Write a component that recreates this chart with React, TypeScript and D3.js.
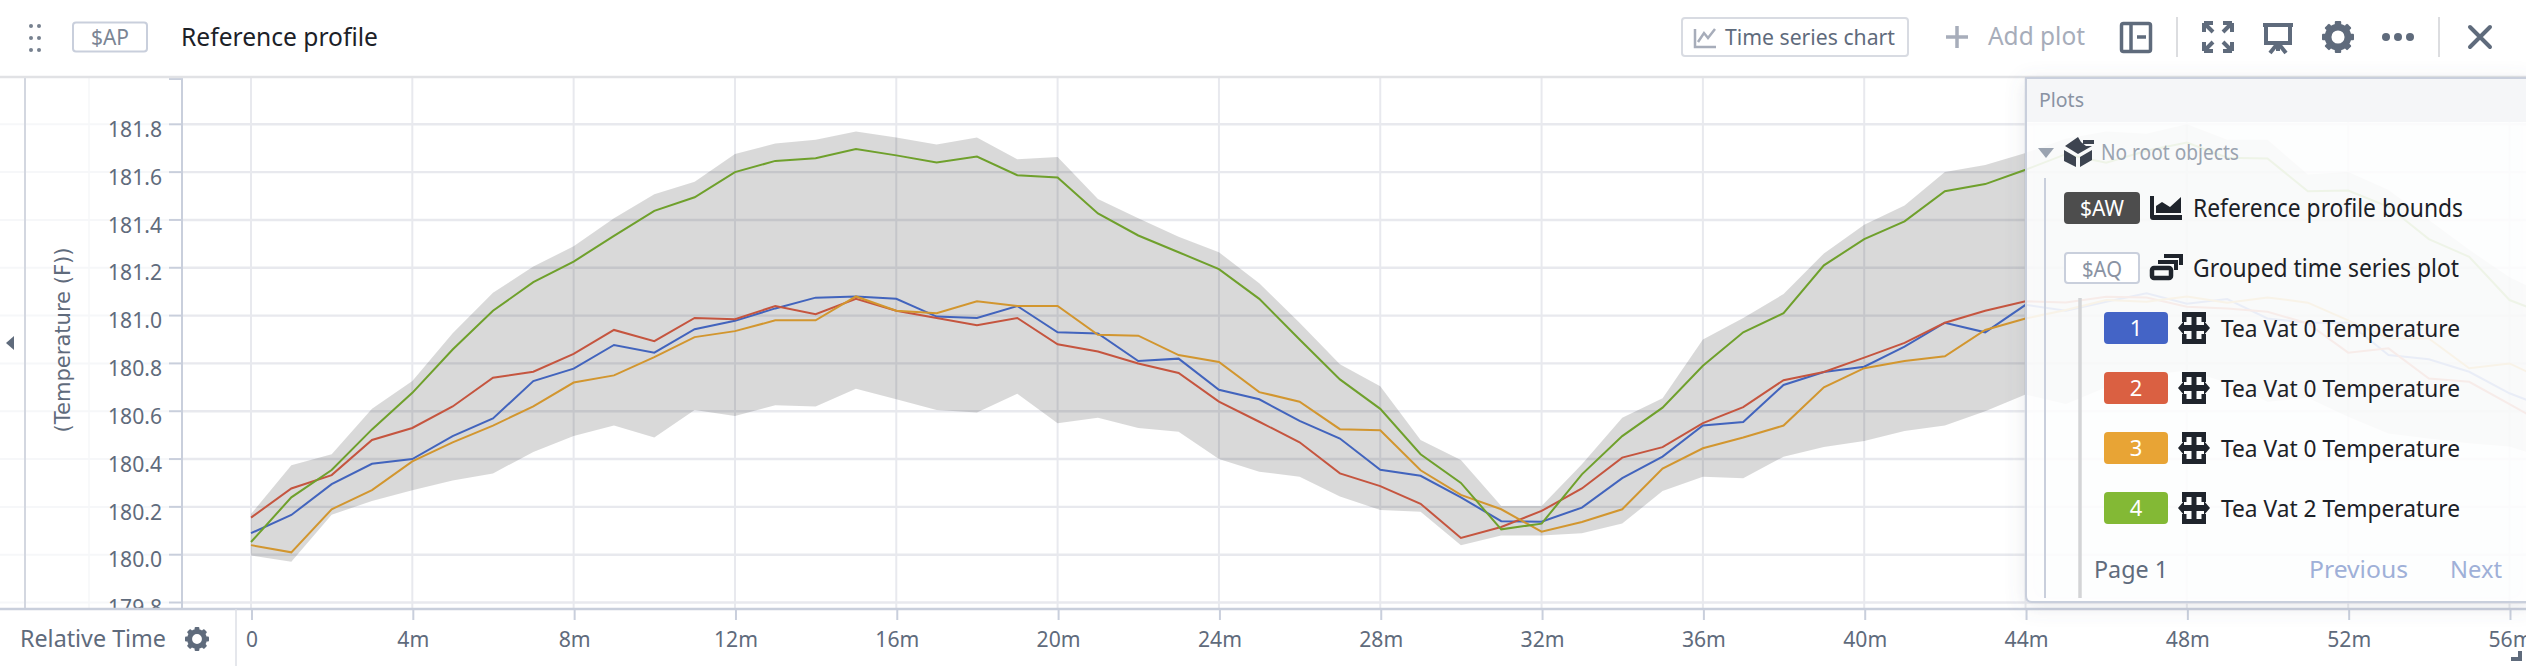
import React from "react";
import * as d3 from "d3";

const W = 2526;
const H = 666;

const yTicks = [179.8, 180.0, 180.2, 180.4, 180.6, 180.8, 181.0, 181.2, 181.4, 181.6, 181.8];
const xTicks = [0, 4, 8, 12, 16, 20, 24, 28, 32, 36, 40, 44, 48, 52, 56];

const boundsUpper = [180.17, 180.374, 180.42, 180.61, 180.726, 180.926, 181.096, 181.205, 181.29, 181.407, 181.507, 181.56, 181.676, 181.72, 181.735, 181.77, 181.745, 181.716, 181.745, 181.654, 181.663, 181.488, 181.407, 181.33, 181.265, 181.135, 180.97, 180.796, 180.705, 180.48, 180.396, 180.204, 180.204, 180.378, 180.573, 180.654, 180.9, 180.99, 181.09, 181.26, 181.38, 181.46, 181.6, 181.63, 181.68, 181.74, 181.77, 181.76, 181.8, 181.735, 181.735, 181.59, 181.6, 181.525, 181.4, 181.275, 181.16, 181.08];
const boundsLower = [179.997, 179.97, 180.167, 180.225, 180.27, 180.31, 180.34, 180.43, 180.496, 180.54, 180.49, 180.605, 180.58, 180.625, 180.62, 180.694, 180.65, 180.605, 180.595, 180.673, 180.55, 180.573, 180.53, 180.514, 180.4, 180.347, 180.326, 180.243, 180.187, 180.18, 180.04, 180.08, 180.08, 180.09, 180.13, 180.266, 180.326, 180.32, 180.41, 180.45, 180.475, 180.517, 180.54, 180.6, 180.67, 180.63, 180.7, 180.75, 180.77, 180.72, 180.64, 180.656, 180.577, 180.507, 180.486, 180.466, 180.452, 180.4];

const series1 = [180.09, 180.166, 180.295, 180.38, 180.4, 180.496, 180.57, 180.726, 180.778, 180.877, 180.845, 180.943, 180.978, 181.03, 181.075, 181.08, 181.07, 180.996, 180.99, 181.04, 180.93, 180.925, 180.81, 180.82, 180.69, 180.65, 180.56, 180.486, 180.355, 180.33, 180.24, 180.14, 180.138, 180.197, 180.32, 180.41, 180.54, 180.555, 180.71, 180.764, 180.786, 180.87, 180.97, 180.93, 181.045, 181.02, 181.058, 181.093, 181.05, 181.069, 180.988, 180.97, 180.97, 180.835, 180.817, 180.765, 180.675, 180.61];
const series2 = [180.155, 180.277, 180.333, 180.48, 180.53, 180.62, 180.74, 180.765, 180.84, 180.94, 180.893, 180.99, 180.985, 181.04, 181.006, 181.07, 181.02, 180.99, 180.96, 180.99, 180.88, 180.85, 180.8, 180.76, 180.64, 180.556, 180.47, 180.34, 180.287, 180.213, 180.07, 180.116, 180.183, 180.277, 180.406, 180.45, 180.55, 180.617, 180.73, 180.764, 180.824, 180.886, 180.97, 181.02, 181.06, 181.055, 181.079, 181.076, 181.037, 181.03, 181.016, 180.967, 180.845, 180.863, 180.737, 180.723, 180.63, 180.535];
const series3 = [180.04, 180.01, 180.19, 180.27, 180.39, 180.47, 180.54, 180.62, 180.72, 180.75, 180.826, 180.91, 180.935, 180.98, 180.98, 181.08, 181.02, 181.01, 181.06, 181.04, 181.04, 180.92, 180.916, 180.835, 180.806, 180.68, 180.64, 180.525, 180.52, 180.353, 180.25, 180.19, 180.096, 180.137, 180.19, 180.36, 180.445, 180.49, 180.54, 180.7, 180.78, 180.81, 180.83, 180.94, 180.988, 181.023, 181.065, 181.058, 181.08, 181.054, 181.076, 181.054, 180.98, 180.904, 180.904, 180.78, 180.8, 180.72];
const series4 = [180.053, 180.24, 180.354, 180.524, 180.677, 180.858, 181.02, 181.14, 181.226, 181.333, 181.438, 181.495, 181.6, 181.647, 181.658, 181.697, 181.67, 181.64, 181.665, 181.587, 181.578, 181.427, 181.335, 181.265, 181.194, 181.07, 180.9, 180.733, 180.61, 180.42, 180.3, 180.106, 180.13, 180.336, 180.496, 180.615, 180.79, 180.93, 181.01, 181.21, 181.32, 181.394, 181.52, 181.55, 181.61, 181.675, 181.639, 181.689, 181.724, 181.66, 181.657, 181.52, 181.523, 181.455, 181.32, 181.246, 181.065, 181.0];

const lineColors = ["#4264bd", "#c5553f", "#d2962f", "#6fa02c"];
const badgeColors = ["#4464c6", "#da6042", "#e8a435", "#83b935"];
const legendNames = ["Tea Vat 0 Temperature", "Tea Vat 0 Temperature", "Tea Vat 0 Temperature", "Tea Vat 2 Temperature"];
const allSeries = [series1, series2, series3, series4];

const FONT = "'Noto Sans', sans-serif";
const GREY = "#5f6b7c";
const LIGHT = "#a7adba";
const DARK = "#1c2127";
const RULE = "#c9cfdc";

const x = d3.scaleLinear().domain([0, 56]).range([251, 2509.5]);
const y = d3.scaleLinear().domain([180, 181.8]).range([554.7, 124.3]);

const linePath = d3.line<number>().x((_, i) => x(i)).y((d) => y(d));
const bandPath = d3
  .area<number>()
  .x((_, i) => x(i))
  .y0((_, i) => y(boundsLower[i]))
  .y1((d) => y(d));

function T(p: { x: number; y: number; s: number; len?: number; c?: string; a?: string; f?: string; w?: number; t?: string; children?: any }) {
  return (
    <text
      x={p.x}
      y={p.y}
      fontSize={p.s}
      fill={p.c ?? GREY}
      textAnchor={p.a ?? "start"}
      fontFamily={p.f ?? FONT}
      fontWeight={p.w ?? 400}
      textLength={p.len}
      lengthAdjust={p.len ? "spacingAndGlyphs" : undefined}
      transform={p.t}
    >
      {p.children}
    </text>
  );
}

function Gear({ cx, cy, r, c }: { cx: number; cy: number; r: number; c: string }) {
  return (
    <g>
      <circle cx={cx} cy={cy} r={r * 0.62} fill="none" stroke={c} strokeWidth={r * 0.42} />
      {d3.range(8).map((i) => (
        <rect
          key={i}
          x={cx - r * 0.2}
          y={cy - r}
          width={r * 0.4}
          height={r * 0.4}
          rx={1}
          fill={c}
          transform={`rotate(${i * 45} ${cx} ${cy})`}
        />
      ))}
    </g>
  );
}

function MoveIcon({ px, py }: { px: number; py: number }) {
  const c = "#1f242c";
  return (
    <g transform={`translate(${px},${py})`}>
      <path d="M4 0H28V10H23.5V5H8.5V10H4Z M4 32V22H8.5V27H23.5V22H28V32Z" fill={c} />
      <rect x="13.5" y="1" width="5" height="30" fill={c} />
      <path d="M0 16L6 9V13H26V9L32 16L26 23V19H6V23Z" fill={c} />
    </g>
  );
}

export default function App() {
  return (
    <svg
      width={W}
      height={H}
      viewBox={`0 0 ${W} ${H}`}
      style={{ position: "absolute", left: 0, top: 0, display: "block", background: "#fff" }}
    >
      <defs>
        <clipPath id="plot">
          <rect x={182} y={78} width={W - 182} height={531} />
        </clipPath>
        <clipPath id="axisLabels">
          <rect x={0} y={78} width={182} height={531} />
        </clipPath>
        <filter id="panelShadow" x="-10%" y="-10%" width="120%" height="125%">
          <feDropShadow dx="0" dy="4" stdDeviation="10" floodColor="#5f6b7c" floodOpacity="0.16" />
        </filter>
      </defs>

      {/* left gutter */}
      {yTicks.map((t) => (
        <line key={t} x1={0} x2={169} y1={y(t)} y2={y(t)} stroke="#f6f7f9" strokeWidth={2} />
      ))}
      <line x1={89} x2={89} y1={78} y2={609} stroke="#f6f7f9" strokeWidth={1.5} />
      <line x1={25} x2={25} y1={78} y2={609} stroke="#d3d7e0" strokeWidth={2} />
      <path d="M6 343L14 336V350Z" fill={GREY} />

      {/* grid */}
      <g clipPath="url(#plot)">
        {yTicks.map((t) => (
          <line key={t} x1={182} x2={W} y1={y(t)} y2={y(t)} stroke="#e8e9ee" strokeWidth={2.4} />
        ))}
        {xTicks.map((t) => (
          <line key={t} x1={x(t)} x2={x(t)} y1={78} y2={609} stroke="#e8e9ee" strokeWidth={2} />
        ))}
        <path d={bandPath(boundsUpper) ?? ""} fill="#000" fillOpacity={0.15} />
        {allSeries.map((s, i) => (
          <path key={i} d={linePath(s) ?? ""} fill="none" stroke={lineColors[i]} strokeWidth={2} />
        ))}
      </g>

      {/* y axis */}
      <line x1={182} x2={182} y1={78} y2={609} stroke={RULE} strokeWidth={2} />
      <line x1={169} x2={182} y1={79} y2={79} stroke={RULE} strokeWidth={2} />
      <g clipPath="url(#axisLabels)">
        {yTicks.map((t) => (
          <g key={t}>
            <line x1={169} x2={182} y1={y(t)} y2={y(t)} stroke={RULE} strokeWidth={2} />
            <T x={162} y={y(t) + 12.7} s={21.5} a="end" len={54}>
              {t.toFixed(1)}
            </T>
          </g>
        ))}
      </g>
      <T x={0} y={0} s={21} a="middle" f="'DejaVu Sans', sans-serif" len={185} t="translate(70,340) rotate(-90)">
        (Temperature (F))
      </T>

      {/* x axis */}
      <line x1={0} x2={W} y1={609} y2={609} stroke={RULE} strokeWidth={2.4} />
      <line x1={236} x2={236} y1={609} y2={H} stroke="#dcdfe6" strokeWidth={1.5} />
      <T x={20} y={647} s={23} len={146}>Relative Time</T>
      <Gear cx={197} cy={639} r={12} c={GREY} />
      {xTicks.map((t) => (
        <g key={t}>
          <line x1={x(t) + 1} x2={x(t) + 1} y1={609} y2={620} stroke={RULE} strokeWidth={2} />
          <T x={x(t) + 1} y={647} s={22} a="middle" len={t === 0 ? 12 : t < 12 ? 32 : 44}>
            {t === 0 ? "0" : `${t}m`}
          </T>
        </g>
      ))}
      <path d="M2522 651V661H2511V657H2518V651Z" fill="#5f6b7c" />

      {/* header */}
      <rect x={0} y={0} width={W} height={76} fill="#fff" />
      <line x1={0} x2={W} y1={77} y2={77} stroke="#e1e2e5" strokeWidth={2.6} />
      {[26, 38, 50].map((cy) =>
        [31, 39].map((cx) => <circle key={`${cx}-${cy}`} cx={cx} cy={cy} r={2} fill="#77818f" />)
      )}
      <rect x={73} y={22.5} width={74} height={29} rx={3} fill="#fff" stroke={RULE} strokeWidth={2} />
      <T x={110} y={45} s={21} a="middle" c="#7b8594" len={38}>$AP</T>
      <T x={181} y={46} s={25} c={DARK} len={197}>Reference profile</T>

      <rect x={1682} y={18} width={226} height={38} rx={3} fill="#fff" stroke="#d8dbe2" strokeWidth={2} />
      <path d="M1695 29V47H1716" fill="none" stroke={LIGHT} strokeWidth={2.5} />
      <path d="M1698 42L1704 33L1708 38L1715 29" fill="none" stroke={LIGHT} strokeWidth={2.5} />
      <T x={1725} y={45} s={22} len={170}>Time series chart</T>
      <path d="M1957 26V48M1946 37H1968" stroke={LIGHT} strokeWidth={3.5} />
      <T x={1988} y={45} s={25} c={LIGHT} len={97}>Add plot</T>
      <rect x={2121.5} y={23.5} width={29} height={28} rx={2} fill="none" stroke={GREY} strokeWidth={3.5} />
      <path d="M2131 24V51" stroke={GREY} strokeWidth={3.5} />
      <path d="M2137 37H2146" stroke={GREY} strokeWidth={3.5} />
      <line x1={2177} x2={2177} y1={17} y2={57} stroke="#dcdde0" strokeWidth={2} />
      <line x1={2439} x2={2439} y1={17} y2={57} stroke="#dcdde0" strokeWidth={2} />
      <g fill="none" stroke={GREY} strokeWidth={4} strokeLinejoin="round">
        <path d="M2204 23H2213M2204 23V32M2204 23L2213 32" />
        <path d="M2232 23H2223M2232 23V32M2232 23L2223 32" />
        <path d="M2204 51H2213M2204 51V42M2204 51L2213 42" />
        <path d="M2232 51H2223M2232 51V42M2232 51L2223 42" />
      </g>
      <path d="M2263 25H2293M2266 25V43H2290V25M2278 43L2270 53M2278 43V51M2278 43L2286 53" fill="none" stroke={GREY} strokeWidth={4} />
      <Gear cx={2338} cy={37} r={16} c={GREY} />
      {[2386, 2398, 2410].map((cx) => <circle key={cx} cx={cx} cy={37} r={4} fill={GREY} />)}
      <path d="M2470 27L2490 47M2490 27L2470 47" stroke={GREY} strokeWidth={4} strokeLinecap="round" />

      {/* panel */}
      <path
        d={`M${W + 4} 78H2026V596Q2026 602 2032 602H${W + 4}Z`}
        fill="#fff"
        fillOpacity={0.88}
        stroke={RULE}
        strokeWidth={2}
        filter="url(#panelShadow)"
      />
      <rect x={2027} y={79} width={W - 2027} height={43} fill="#f5f6f8" />
      <T x={2039} y={107} s={19} c="#8a93a3" len={45}>Plots</T>
      <path d="M2038 148H2054L2046 158Z" fill="#9aa3b0" />
      <path d="M2064 150L2076 157V167L2064 161Z M2080 157L2092 150V160L2080 167Z M2065 146L2078 137L2081 142L2086 146H2092L2078 154Z M2083 140H2094V144H2083Z" fill="#3d4450" />
      <T x={2101} y={160} s={21} c="#9aa3b0" len={138}>No root objects</T>
      <line x1={2045} x2={2045} y1={178} y2={598} stroke={RULE} strokeWidth={2} />
      <line x1={2080} x2={2080} y1={298} y2={598} stroke="#d3d4d6" strokeWidth={3.5} />

      <rect x={2064} y={192} width={76} height={32} rx={4} fill="#4d4d4d" />
      <T x={2102} y={216} s={22} a="middle" c="#fff" len={44}>$AW</T>
      <path d="M2150 196H2154V215H2182V220H2153Q2150 220 2150 217Z M2156 213V206L2162 202L2170 207L2181 197V213Z" fill="#1f242c" />
      <T x={2193} y={217} s={25.5} c={DARK} len={270}>Reference profile bounds</T>

      <rect x={2065} y={253} width={74} height={30} rx={3} fill="#fff" stroke={RULE} strokeWidth={2} />
      <T x={2102} y={277} s={22} a="middle" c="#8a93a3" len={40}>$AQ</T>
      <rect x={2152} y={268} width={19} height={10} rx={2} fill="none" stroke="#1f242c" strokeWidth={4.5} />
      <path d="M2158 262H2176V270M2164 256H2181V265" fill="none" stroke="#1f242c" strokeWidth={4} />
      <T x={2193} y={277} s={25.5} c={DARK} len={266}>Grouped time series plot</T>

      {legendNames.map((name, i) => {
        const top = 312 + i * 60;
        return (
          <g key={i}>
            <rect x={2104} y={top} width={64} height={32} rx={4} fill={badgeColors[i]} />
            <T x={2136} y={top + 24} s={22} a="middle" c="#fff">{String(i + 1)}</T>
            <MoveIcon px={2178} py={top} />
            <T x={2221} y={top + 25} s={24} c={DARK} len={239}>{name}</T>
          </g>
        );
      })}

      <T x={2094} y={578} s={24} len={74}>Page 1</T>
      <T x={2309} y={578} s={24} c="#9fb0d8" len={99}>Previous</T>
      <T x={2450} y={578} s={24} c="#9fb0d8" len={52}>Next</T>
    </svg>
  );
}
